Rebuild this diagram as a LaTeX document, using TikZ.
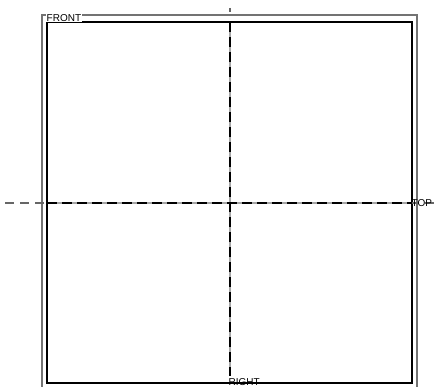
\documentclass[tikz,border=0pt]{standalone}
\usepackage{fontspec}
\setmainfont{Liberation Sans}
\begin{document}
\begin{tikzpicture}[x=1pt,y=-1pt,
  outerline/.style={draw=black!55,line width=1.4pt},
  innerline/.style={draw=black,line width=1.1pt},
  axisbase/.style={draw=black!35,line width=1.6pt},
  axisdash/.style={draw=black,line width=1.4pt,dash pattern=on 10pt off 5pt},
  axisout/.style={draw=black!60,line width=1.4pt,dash pattern=on 9pt off 6pt},
  lbl/.style={font=\fontsize{10}{11}\selectfont,inner sep=0.5pt,text=black}]
\useasboundingbox (0,0) rectangle (441,387);
% outer (gray) frame, open at bottom
\draw[outerline] (42,387) -- (42,15) -- (417,15) -- (417,387);
% inner (black) frame
\draw[innerline] (47,22) rectangle (412,383);
% horizontal axis
\draw[axisout] (5,203) -- (438,203);
\draw[axisbase] (47,203) -- (412,203);
\draw[axisdash] (47,203) -- (412,203);
% vertical axis
\draw[draw=black!60,line width=1.4pt] (230,8) -- (230,12);
\draw[axisbase] (230,22) -- (230,376);
\draw[axisdash] (230,22) -- (230,376);
% labels
\node[lbl,fill=white,anchor=base west] (front) at (46,21.5) {FRONT};
\node[lbl,anchor=base west] (top) at (411,206.5) {TOP};
\node[lbl,anchor=base west] (right) at (228,385) {RIGHT};
\end{tikzpicture}
\end{document}
